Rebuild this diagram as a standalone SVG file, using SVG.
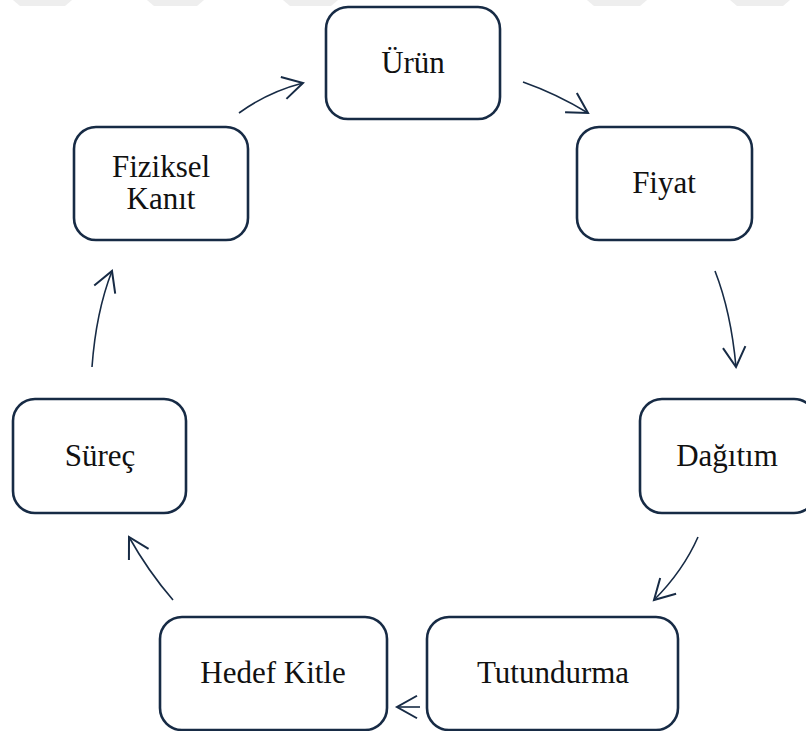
<svg xmlns="http://www.w3.org/2000/svg" width="806" height="731" viewBox="0 0 806 731">
<defs>
<style>
.box{fill:#fff;stroke:#172b45;stroke-width:2.6}
.lbl{font-family:"Liberation Serif","Times New Roman",serif;font-size:31px;fill:#111;text-anchor:middle}
.con{fill:none;stroke:#172b45;stroke-width:1.6;marker-end:url(#ah)}
.wm{fill:#eeeeee}
</style>
<marker id="ah" markerUnits="userSpaceOnUse" markerWidth="30" markerHeight="30" viewBox="-20 -12 24 24" refX="0" refY="0" orient="auto">
<path d="M-16,-9 L0,0 L-16,9" fill="none" stroke="#172b45" stroke-width="1.6"/>
</marker>
</defs>
<rect width="806" height="731" fill="#fff"/>
<g id="watermark">
<polygon class="wm" points="13,0 72,0 65,6 20,6"/>
<polygon class="wm" points="147,0 204,0 197,6 154,6"/>
<polygon class="wm" points="283,0 338,0 331,6 290,6"/>
<polygon class="wm" points="587,0 647,0 640,6 594,6"/>
<polygon class="wm" points="730,0 790,0 783,6 737,6"/>
</g>
<g id="connectors">
<path class="con" d="M239,113 Q268,92 303,83"/>
<path class="con" d="M523,82 Q557,94 588,113"/>
<path class="con" d="M715,271 Q731,312 736,367"/>
<path class="con" d="M698,537 Q683,571 654,600"/>
<path class="con" d="M420,707 L397,707"/>
<path class="con" d="M173,600 Q148,571 129,537"/>
<path class="con" d="M92,367 Q96,312 112,271"/>
</g>
<g id="node-urun">
<rect class="box" x="326" y="7" width="174" height="112" rx="22"/>
<text class="lbl" x="413" y="73">Ürün</text>
</g>
<g id="node-fiyat">
<rect class="box" x="577" y="127" width="175" height="113" rx="22"/>
<text class="lbl" x="664" y="193">Fiyat</text>
</g>
<g id="node-dagitim">
<rect class="box" x="640" y="399" width="176" height="114" rx="22"/>
<text class="lbl" x="727" y="466">Dağıtım</text>
</g>
<g id="node-tutundurma">
<rect class="box" x="427" y="617" width="251" height="113" rx="22"/>
<text class="lbl" x="553" y="683">Tutundurma</text>
</g>
<g id="node-hedef-kitle">
<rect class="box" x="160" y="617" width="227" height="113" rx="22"/>
<text class="lbl" x="273" y="683">Hedef Kitle</text>
</g>
<g id="node-surec">
<rect class="box" x="13" y="399" width="173" height="114" rx="22"/>
<text class="lbl" x="100" y="466">Süreç</text>
</g>
<g id="node-fiziksel-kanit">
<rect class="box" x="74" y="127" width="174" height="113" rx="22"/>
<text class="lbl" x="161" y="177">Fiziksel</text>
<text class="lbl" x="161" y="209">Kanıt</text>
</g>
</svg>
